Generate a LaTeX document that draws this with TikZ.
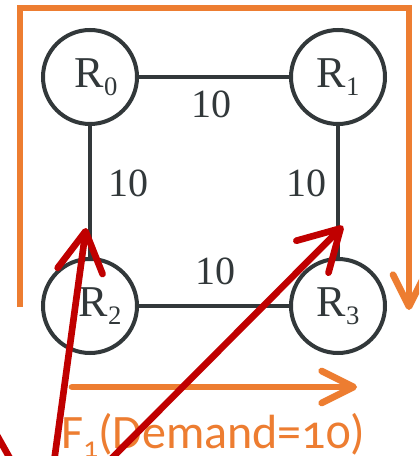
\documentclass[tikz,border=0pt]{standalone}
\usepackage{fontspec}
\setmainfont{Liberation Serif}
\newfontfamily\serifF{Liberation Serif}
\newfontfamily\flowfont[Numbers=OldStyle]{Carlito}
\usetikzlibrary{arrows.meta}
\definecolor{dk}{RGB}{50,56,58}
\definecolor{org}{RGB}{237,125,49}
\definecolor{rd}{RGB}{192,0,0}
\newcommand{\rsub}[1]{\raisebox{-6pt}{\fontsize{20}{20}\selectfont #1}}
\begin{document}
\begin{tikzpicture}[x=0.75pt,y=-0.75pt,
  router/.style={circle,draw=dk,line width=3pt,minimum size=70.5pt,inner sep=0pt,text=dk,font=\serifF\fontsize{33}{33}\selectfont},
  link/.style={draw=dk,line width=3pt},
  wt/.style={text=dk,font=\serifF\fontsize{30}{30}\selectfont,inner sep=0pt},
  flowarrow/.style={draw=org,line width=5pt,line cap=round,-{Straight Barb[length=24pt,width=24pt,round]}},
  redarrow/.style={draw=rd,line width=5pt,line cap=round,-{Straight Barb[length=30pt,width=34pt,round]}},
]
\useasboundingbox (0,0) rectangle (419,456);
\clip (0,0) rectangle (419,456);
\fill[white] (0,0) rectangle (419,456);

% orange flow path around the square
\coordinate (o1) at (20,307);
\coordinate (o2) at (20,8);
\coordinate (o3) at (409,8);
\coordinate (o4) at (409,310);
\draw[flowarrow,line cap=butt] (o1) -- (o2) -- (o3) -- (o4);

% routers
\node[router] (R0) at (90,77) {\kern9pt R\rsub{0}};
\node[router] (R1) at (338,77) {R\rsub{1}};
\node[router] (R2) at (90,306) {\kern15pt R\rsub{2}};
\node[router] (R3) at (338,306) {R\rsub{3}};

% links
\draw[link] (R0) -- (R1);
\draw[link] (R0) -- (R2);
\draw[link] (R1) -- (R3);
\draw[link] (R2) -- (R3);

% weights
\node[wt] (w01) at (211,104) {10};
\node[wt] (w02) at (128,183) {10};
\node[wt] (w13) at (306,183) {10};
\node[wt] (w23) at (215,271) {10};

% bottom orange arrow and label
\coordinate (b1) at (72,387);
\coordinate (b2) at (357,387);
\draw[flowarrow] (b1) -- (b2);
\node[anchor=base west,inner sep=0pt,text=org,font=\flowfont\fontsize{36}{36}\selectfont] (F1) at (61,448)
  {F\raisebox{-7pt}{\fontsize{22}{22}\selectfont 1}(Demand=10)};

% red arrows
\coordinate (s1) at (54,462);
\coordinate (t1) at (86,228);
\coordinate (s2) at (108,462);
\coordinate (t2) at (343,226);
\coordinate (s3) at (-6,430);
\coordinate (t3) at (12,462);
\draw[redarrow] (s1) -- (t1);
\draw[redarrow] (s2) -- (t2);
\draw[draw=rd,line width=5pt] (s3) -- (t3);
\end{tikzpicture}
\end{document}
